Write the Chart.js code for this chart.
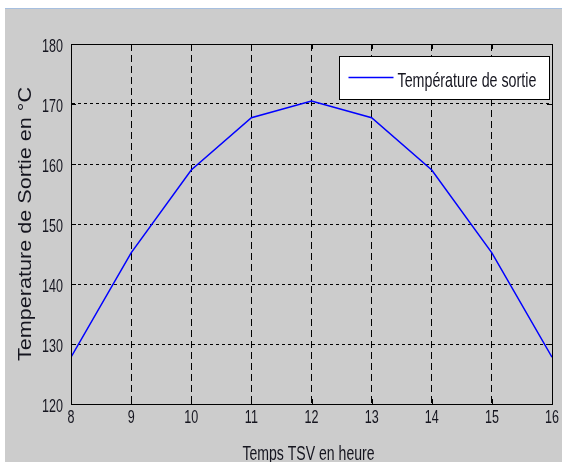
<!DOCTYPE html>
<html>
<head>
<meta charset="utf-8">
<script src="https://cdn.jsdelivr.net/npm/chart.js@4/dist/chart.umd.min.js"></script>
<style>
  html, body { margin: 0; padding: 0; background: #ffffff; }
  body { width: 562px; height: 462px; position: relative; overflow: hidden; }
  #topline { position: absolute; left: 5px; top: 8px; width: 557px; height: 1px; background: #a6bfdf; }
  #frame { position: absolute; left: 5px; top: 9px; width: 557px; height: 453px; background: #cccccc; }
</style>
</head>
<body>
<div id="topline"></div>
<div id="frame"><canvas id="c"></canvas></div>
<script>
// Hours (solar time) and outlet temperature
const hours = [8, 9, 10, 11, 12, 13, 14, 15, 16];
const outletTemp = [127.8, 145.2, 159.0, 167.7, 170.5, 167.7, 159.0, 145.2, 127.8];
const seriesLabel = 'Température de sortie';
const xTitle = 'Temps TSV en heure';
const yTitle = 'Temperature de Sortie en °C';
const xRange = [8, 16];
const yRange = [120, 180];

const family = "'Liberation Sans', Arial, sans-serif";
const textColor = '#15151f';

// Condensed text: draws a string scaled along its own direction
function condensedText(ctx, text, x, y, opts) {
  ctx.save();
  ctx.translate(x, y);
  if (opts.rotate) ctx.rotate(opts.rotate);
  ctx.scale(opts.sx, 1);
  ctx.font = opts.size + 'px ' + family;
  ctx.fillStyle = textColor;
  ctx.textAlign = opts.align || 'left';
  ctx.textBaseline = 'alphabetic';
  ctx.fillText(text, 0, 0);
  ctx.restore();
}

// Solid box around the plot area, inward tick marks, tick labels and axis titles
const axesBox = {
  id: 'axesBox',
  afterDatasetsDraw(chart) {
    const { ctx, chartArea: a, scales } = chart;
    const len = 5;
    ctx.save();
    ctx.strokeStyle = '#000000';
    ctx.lineWidth = 1;
    ctx.setLineDash([]);
    ctx.beginPath();
    scales.x.ticks.forEach(t => {
      const px = Math.round(scales.x.getPixelForValue(t.value)) + 0.5;
      ctx.moveTo(px, a.bottom); ctx.lineTo(px, a.bottom - len);
      ctx.moveTo(px, a.top); ctx.lineTo(px, a.top + len);
    });
    scales.y.ticks.forEach(t => {
      const py = Math.round(scales.y.getPixelForValue(t.value)) + 0.5;
      ctx.moveTo(a.left, py); ctx.lineTo(a.left + len, py);
      ctx.moveTo(a.right, py); ctx.lineTo(a.right - len, py);
    });
    ctx.stroke();
    ctx.strokeRect(Math.round(a.left) + 0.5, Math.round(a.top) + 0.5,
                   Math.round(a.right - a.left), Math.round(a.bottom - a.top));
    ctx.restore();

    const tickSize = 19, tickSx = 0.66;
    scales.x.ticks.forEach(t => {
      const px = scales.x.getPixelForValue(t.value);
      condensedText(ctx, String(t.label), px, a.bottom + 19, { size: tickSize, sx: tickSx, align: 'center' });
    });
    scales.y.ticks.forEach(t => {
      const py = scales.y.getPixelForValue(t.value);
      condensedText(ctx, String(t.label), a.left - 8, py + 7.5, { size: tickSize, sx: tickSx, align: 'right' });
    });
    condensedText(ctx, xTitle, (a.left + a.right) / 2 - 3, a.bottom + 56,
                  { size: 21, sx: 0.67, align: 'center' });
    condensedText(ctx, yTitle, 26, (a.top + a.bottom) / 2,
                  { size: 18, sx: 1.2, align: 'center', rotate: -Math.PI / 2 });
  }
};

// Boxed legend placed inside the upper-right corner of the plot
const boxLegend = {
  id: 'boxLegend',
  afterDraw(chart) {
    const { ctx, chartArea: a } = chart;
    const ds = chart.data.datasets[0];
    const w = 210, h = 43;
    const x0 = Math.round(a.right - 3 - w) + 0.5;
    const y0 = Math.round(a.top + 12) + 0.5;
    ctx.save();
    ctx.fillStyle = '#ffffff';
    ctx.fillRect(x0, y0, w, h);
    ctx.strokeStyle = '#000000';
    ctx.lineWidth = 1;
    ctx.strokeRect(x0, y0, w, h);
    const cy = y0 + 21;
    ctx.strokeStyle = ds.borderColor;
    ctx.lineWidth = 1.5;
    ctx.beginPath();
    ctx.moveTo(x0 + 9, cy);
    ctx.lineTo(x0 + 54, cy);
    ctx.stroke();
    ctx.restore();
    condensedText(ctx, ds.label, x0 + 58, y0 + 30, { size: 21, sx: 0.68, align: 'left' });
  }
};

new Chart(document.getElementById('c'), {
  type: 'line',
  data: {
    datasets: [{
      label: seriesLabel,
      data: hours.map((h, i) => ({ x: h, y: outletTemp[i] })),
      borderColor: '#0000ff',
      borderWidth: 1.5,
      pointRadius: 0,
      tension: 0,
      fill: false
    }]
  },
  options: {
    responsive: true,
    maintainAspectRatio: false,
    animation: false,
    layout: { padding: { left: 0, right: 10, top: 35, bottom: 0 } },
    plugins: {
      legend: { display: false },
      tooltip: { enabled: false }
    },
    scales: {
      x: {
        type: 'linear',
        min: xRange[0],
        max: xRange[1],
        ticks: { stepSize: 1, display: false },
        grid: { color: '#000000', lineWidth: 1, drawTicks: false },
        border: { display: true, color: '#000000', dash: [7, 4] },
        afterFit(scale) { scale.height = 58; }
      },
      y: {
        type: 'linear',
        min: yRange[0],
        max: yRange[1],
        ticks: { stepSize: 10, display: false },
        grid: { color: '#000000', lineWidth: 1, drawTicks: false },
        border: { display: true, color: '#000000', dash: [3, 3] },
        afterFit(scale) { scale.width = 66; }
      }
    }
  },
  plugins: [axesBox, boxLegend]
});
</script>
</body>
</html>
